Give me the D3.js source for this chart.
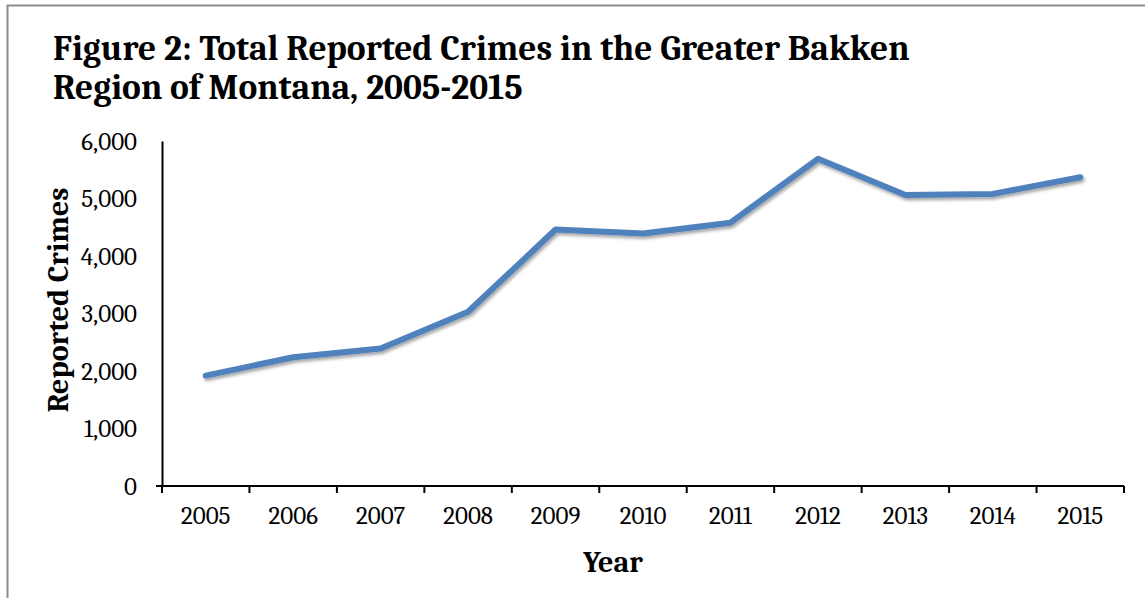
<!DOCTYPE html>
<html><head><meta charset="utf-8">
<script src="https://cdn.jsdelivr.net/npm/d3@7"></script>
<style>body{margin:0;background:#fff}svg{display:block}</style>
</head><body>
<svg id="c" width="1145" height="598"></svg>
<script>
const years = ["2005","2006","2007","2008","2009","2010","2011","2012","2013","2014","2015"];
const crimes = [1920, 2240, 2390, 3030, 4460, 4390, 4580, 5690, 5060, 5080, 5370];
const yTicks = [0, 1000, 2000, 3000, 4000, 5000, 6000];
const titleLines = ["Figure 2: Total Reported Crimes in the Greater Bakken", "Region of Montana, 2005-2015"];
const yTitle = "Reported Crimes";
const xTitle = "Year";

const svg = d3.select("#c");
const serif = "Cambria, Caladea, 'Liberation Serif', 'DejaVu Serif', serif";

// outer border
svg.append("path").attr("d","M7.5,598 V5.5 H1145").attr("fill","none").attr("stroke","#8c8c8c").attr("stroke-width",2);

const defs = svg.append("defs");
const f = defs.append("filter").attr("id","sh").attr("x","-10%").attr("y","-10%").attr("width","120%").attr("height","130%");
f.append("feDropShadow").attr("dx",1.5).attr("dy",2.5).attr("stdDeviation",1.6).attr("flood-color","#000").attr("flood-opacity",0.35);

const m = {left:162, right:1124, top:141, bottom:486};
const x = d3.scaleBand().domain(years).range([m.left, m.right]);
const y = d3.scaleLinear().domain([0,6000]).range([m.bottom, m.top]);

// title
const t = svg.append("g");
titleLines.forEach((s,i)=>{
  t.append("text").attr("x",53).attr("y",60+i*39).text(s)
    .attr("font-family",serif).attr("font-weight","bold").attr("font-size",31).attr("fill","#000");
});
const w0 = t.select("text").node().getComputedTextLength();
t.selectAll("text").attr("font-size", 31*857/w0);

// y axis
const ya = svg.append("g").attr("transform",`translate(${m.left},0)`)
  .call(d3.axisLeft(y).tickValues(yTicks).tickSize(0).tickPadding(25).tickFormat(d3.format(",")));
ya.select(".domain").attr("stroke","#000").attr("stroke-width",2);
ya.selectAll("text").attr("font-family",serif).attr("font-size",25).attr("fill","#000").attr("dy","0.32em");

// x axis
const xa = svg.append("g").attr("transform",`translate(0,${m.bottom})`)
  .call(d3.axisBottom(x).tickSize(0).tickPadding(20));
xa.select(".domain").attr("stroke","#000").attr("stroke-width",2).attr("d",`M${m.left-6},0H${m.right}`);
xa.selectAll("text").attr("font-family",serif).attr("font-size",25).attr("fill","#000");
// boundary tick marks
const bounds = years.map(d=>x(d)).concat([m.right]);
xa.selectAll("line.b").data(bounds).join("line").attr("class","b")
  .attr("x1",d=>d).attr("x2",d=>d).attr("y1",0).attr("y2",7).attr("stroke","#000").attr("stroke-width",2);

// axis titles
svg.append("text").attr("transform",`translate(68,300) rotate(-90)`)
  .attr("text-anchor","middle").attr("font-family",serif).attr("font-weight","bold").attr("font-size",30).text(yTitle);
svg.append("text").attr("x",613).attr("y",572)
  .attr("text-anchor","middle").attr("font-family",serif).attr("font-weight","bold").attr("font-size",30).text(xTitle);

// line
const line = d3.line().x((d,i)=>x(years[i])+x.bandwidth()/2).y(d=>y(d));
svg.append("path").datum(crimes).attr("d",line).attr("fill","none")
  .attr("stroke","#4f81bd").attr("stroke-width",6).attr("stroke-linejoin","round").attr("stroke-linecap","round")
  .attr("filter","url(#sh)");
</script>
</body></html>
